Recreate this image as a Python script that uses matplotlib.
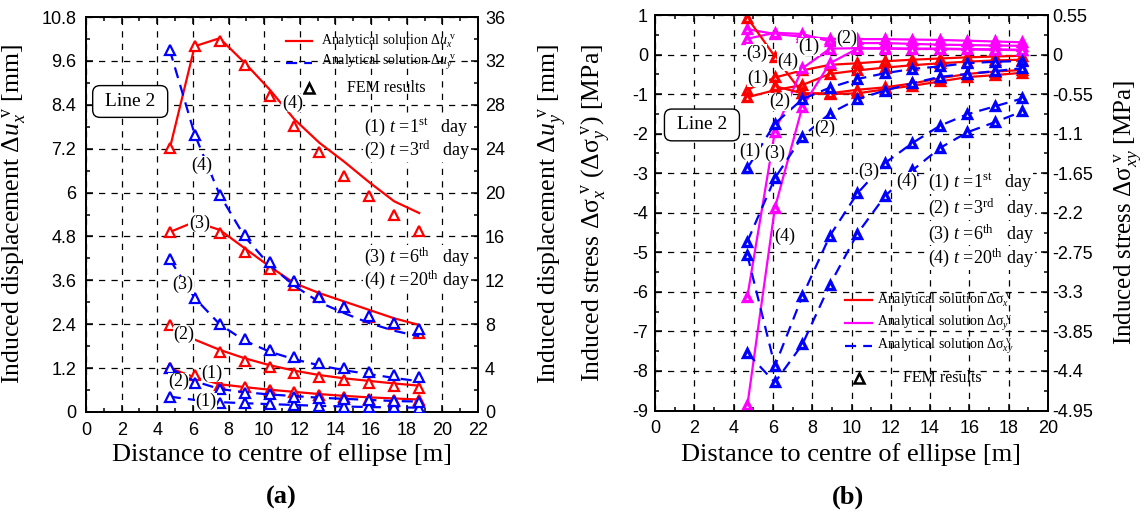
import numpy as np
import matplotlib.pyplot as plt
from matplotlib.ticker import FixedLocator, FuncFormatter

plt.rcParams['font.family'] = 'Liberation Sans'
plt.rcParams['mathtext.fontset'] = 'custom'
plt.rcParams['mathtext.rm'] = 'Liberation Serif'
plt.rcParams['mathtext.it'] = 'Liberation Serif:italic'
plt.rcParams['mathtext.bf'] = 'Liberation Serif:bold'
SERIF = 'Liberation Serif'
nan = np.nan

# distance of the sample points along line 2 (m)
dist = np.array([4.7, 6.1, 7.5, 8.9, 10.3, 11.7, 13.1, 14.5, 15.9, 17.3, 18.7])

# (a) horizontal displacement dux (mm, left axis)
ux_ana = [[1.20, 0.95, 0.76, 0.68, 0.61, 0.55, 0.49, 0.44, 0.40, 0.37, 0.34],
          [2.38, 1.98, 1.70, 1.47, 1.28, 1.13, 1.01, 0.92, 0.85, 0.78, 0.72],
          [4.92, 5.20, 4.98, 4.48, 3.98, 3.52, 3.25, 3.02, 2.79, 2.56, 2.38],
          [7.20, 10.0, 10.22, 9.55, 8.82, 8.00, 7.36, 6.84, 6.28, 5.76, 5.44]]
ux_fem = [[1.20, 1.01, 0.74, 0.68, 0.60, 0.56, 0.47, 0.42, 0.36, 0.33, 0.33],
          [2.38, nan, 1.65, 1.40, 1.24, 1.08, 0.97, 0.88, 0.79, 0.71, 0.65],
          [4.92, nan, 4.89, 4.37, 3.91, 3.48, 3.16, 2.87, 2.61, 2.41, 2.15],
          [7.22, 10.0, 10.14, 9.48, 8.63, 7.83, 7.10, 6.46, 5.90, 5.39, 4.96]]
# (a) vertical displacement duy (mm, right axis)
uy_ana = [[1.40, 1.10, 0.90, 0.80, 0.72, 0.64, 0.56, 0.50, 0.45, 0.42, 0.40],
          [4.0, 2.8, 2.1, 1.8, 1.6, 1.45, 1.3, 1.2, 1.1, 1.0, 0.95],
          [13.9, 10.4, 8.0, 6.5, 5.5, 4.8, 4.25, 3.8, 3.45, 3.1, 2.8],
          [33.0, 25.3, 19.8, 16.0, 13.4, 11.5, 10.0, 9.0, 8.1, 7.4, 6.9]]
uy_fem = [[1.40, nan, 0.85, 0.79, 0.73, 0.64, 0.55, 0.49, 0.43, 0.43, 0.40],
          [3.99, 2.68, 2.07, 1.76, 1.61, 1.40, 1.25, 1.16, 1.10, 1.00, 0.94],
          [13.93, 10.43, 8.03, 6.63, 5.66, 5.05, 4.44, 3.99, 3.68, 3.38, 3.22],
          [33.03, 25.27, 19.8, 16.15, 13.7, 11.95, 10.52, 9.55, 8.76, 8.09, 7.54]]

# (b) induced stresses (MPa): sx, sy on left axis, sxy on right axis
sx = [[-0.89, -0.58, -0.40, -0.26, -0.22, -0.17, -0.13, -0.10, -0.07, -0.05, -0.03],
      [-1.08, -0.90, -0.77, -0.49, -0.40, -0.33, -0.27, -0.22, -0.18, -0.15, -0.13],
      [0.93, -0.05, -0.98, -1.00, -0.98, -0.88, -0.79, -0.68, -0.57, -0.52, -0.46],
      [nan, -0.80, -0.98, -0.98, -0.89, -0.83, -0.73, -0.60, -0.49, -0.43, -0.39]]
sy = [[0.64, 0.52, 0.45, 0.40, 0.39, 0.39, 0.38, 0.37, 0.35, 0.33, 0.31],
      [0.40, 0.55, 0.52, 0.33, 0.29, 0.29, 0.27, 0.25, 0.24, 0.23, 0.22],
      [-6.12, -1.95, -0.35, 0.15, 0.16, 0.16, 0.15, 0.15, 0.14, 0.13, 0.12],
      [-8.87, -3.88, -1.32, -0.22, 0.15, 0.15, 0.14, 0.14, 0.13, 0.12, 0.11]]
sxy = [[-1.58, -0.96, -0.62, -0.46, -0.34, -0.26, -0.20, -0.165, -0.12, -0.10, -0.09],
       [-2.60, -1.72, -1.14, -0.82, -0.62, -0.50, -0.40, -0.31, -0.27, -0.23, -0.19],
       [-2.79, -4.33, -3.36, -2.52, -1.93, -1.51, -1.23, -0.99, -0.83, -0.72, -0.61],
       [-4.15, -4.56, -4.03, -3.20, -2.49, -1.97, -1.61, -1.30, -1.08, -0.94, -0.79]]

# time labels: number, day, ordinal suffix
times = [('(1)', '1', 'st', '   day'), ('(2)', '3', 'rd', '   day'),
         ('(3)', '6', 'th', '   day'), ('(4)', '20', 'th', ' day')]

W, H = 1145, 517
fig = plt.figure(figsize=(W / 100, H / 100), dpi=100)

RED, BLUE, MAG = '#ff0000', '#0000ff', '#ff00ff'
DASH = (0, (5, 3.2))
fmt = FuncFormatter(lambda v, p: f'{round(v, 2) + 0:g}')


def frame(ax, ax2, xmax, yt, yt2, pad_l, pad_r):
    ax.set_xlim(0, xmax)
    ax.xaxis.set_major_locator(FixedLocator(np.arange(0, xmax + 1, 2)))
    ax.xaxis.set_minor_locator(FixedLocator(np.arange(0, xmax + 1, 1)))
    ax.yaxis.set_major_locator(FixedLocator(yt))
    ax.yaxis.set_minor_locator(FixedLocator((yt[:-1] + yt[1:]) / 2))
    ax2.yaxis.set_major_locator(FixedLocator(yt2))
    ax2.yaxis.set_minor_locator(FixedLocator((yt2[:-1] + yt2[1:]) / 2))
    ax.set_ylim(yt[0], yt[-1])
    ax2.set_ylim(yt2[0], yt2[-1])
    ax.yaxis.set_major_formatter(fmt)
    ax2.yaxis.set_major_formatter(fmt)
    ax.grid(True, which='major', color='black', ls=(0, (5, 5)), lw=0.9)
    ax.tick_params(which='both', direction='in', top=True, right=False,
                   labelsize=13, width=1.1)
    ax.tick_params(axis='x', pad=7)
    ax.tick_params(axis='y', pad=pad_l)
    ax.tick_params(which='major', length=5)
    ax.tick_params(which='minor', length=3)
    ax2.tick_params(which='both', direction='in', labelsize=13, width=1.1, pad=pad_r)
    ax2.tick_params(which='major', length=5)
    ax2.tick_params(which='minor', length=3)
    for a in (ax, ax2):
        for s in a.spines.values():
            s.set_linewidth(1.3)


def lab(ax2, ax, x, y, s, size=13, ha='center'):
    ax2.text(x, y, s, transform=ax.transData, family=SERIF, fontsize=size,
             ha=ha, va='center', zorder=6,
             bbox=dict(fc='white', ec='none', pad=0.3))


def time_labels(ax2, ax, x, ys):
    for (n, d, sup, tail), y in zip(times, ys):
        ax2.text(x, y, n + r' $t$ =' + d + r'$^{\mathrm{' + sup + '}}$' + tail,
                 transform=ax.transData, family=SERIF, fontsize=13, va='center',
                 zorder=6, bbox=dict(fc='white', ec='none', pad=0.5))


# ---------------- (a) displacements ----------------
axa = fig.add_axes([86 / W, 1 - 412 / H, (478 - 86) / W, (412 - 17) / H])
axa2 = axa.twinx()
frame(axa, axa2, 22, np.round(np.arange(0, 10.81, 1.2), 2),
      np.arange(0, 37, 4.0), 7, 5)

for i in range(4):
    axa.plot(dist, ux_ana[i], color=RED, lw=1.6, zorder=3)
    axa.plot(dist, ux_fem[i], ls='none', marker='^', ms=7, mfc='white',
             mec=RED, mew=1.6, zorder=4)
    axa2.plot(dist, uy_ana[i], color=BLUE, lw=1.6, ls=DASH, zorder=3)
    axa2.plot(dist, uy_fem[i], ls='none', marker='^', ms=7, mfc='white',
              mec=BLUE, mew=1.6, zorder=4)

for x, y, s in [(11.58, 8.45, '(4)'), (6.47, 6.74, '(4)'), (6.36, 5.17, '(3)'),
                (5.44, 3.48, '(3)'), (5.48, 2.11, '(2)'), (5.19, 0.83, '(2)'),
                (7.07, 1.06, '(1)'), (6.75, 0.28, '(1)')]:
    lab(axa2, axa, x, y, s)

axa2.text(2.48, 8.49, ' Line 2 ', transform=axa.transData, family=SERIF,
          fontsize=14, ha='center', va='center', zorder=6,
          bbox=dict(boxstyle='round,pad=0.38', fc='white', ec='black', lw=1.0))

# legend (a)
axa.plot([11.2, 12.7], [10.14, 10.14], color=RED, lw=1.6, clip_on=False)
axa.plot([11.2, 12.7], [9.55, 9.55], color=BLUE, lw=1.6, ls=DASH, clip_on=False)
axa.plot([12.51], [8.86], ls='none', marker='^', ms=7, mfc='white', mec='black', mew=1.8)
axa.text(13.17, 10.14, r'Analytical solution Δ$u_x^{\ \mathrm{v}}$', family=SERIF,
         fontsize=10, va='center')
axa.text(13.17, 9.55, r'Analytical solution Δ$u_y^{\ \mathrm{v}}$', family=SERIF,
         fontsize=10, va='center')
axa.text(14.67, 8.86, 'FEM results', family=SERIF, fontsize=11.5, va='center')
time_labels(axa2, axa, 15.59, [7.77, 7.17, 4.25, 3.61])

axa.set_ylabel(r'Induced displacement Δ$u_x^{\ \mathrm{v}}$ [mm]', family=SERIF, fontsize=18.5)
axa.yaxis.set_label_coords(-0.148, 0.5)
axa2.set_ylabel(r'Induced displacement Δ$u_y^{\ \mathrm{v}}$ [mm]', family=SERIF, fontsize=18.5)
axa2.yaxis.set_label_coords(1.15, 0.5)

# ---------------- (b) stresses ----------------
axb = fig.add_axes([655 / W, 1 - 410.5 / H, (1048 - 655) / W, (410.5 - 15) / H])
axb2 = axb.twinx()
frame(axb, axb2, 20, np.arange(-9, 1.01, 1.0),
      np.round(np.arange(-4.95, 0.56, 0.55), 2), 5, 3)

mk = dict(marker='^', ms=6, mfc='white', mew=2.4)
for i in range(4):
    axb.plot(dist, sx[i], color=RED, lw=1.6, mec=RED, zorder=3, **mk)
    axb.plot(dist, sy[i], color=MAG, lw=1.6, mec=MAG, zorder=3, **mk)
    axb2.plot(dist, sxy[i], color=BLUE, lw=1.6, ls=DASH, mec=BLUE, zorder=3, **mk)

for x, y, s in [(5.17, 0.03, '(3)'), (6.78, -0.18, '(4)'), (7.84, 0.2, '(1)'),
                (9.75, 0.41, '(2)'), (5.25, -0.6, '(1)'), (6.35, -1.19, '(2)'),
                (8.64, -1.86, '(2)'), (4.83, -2.45, '(1)'), (6.1, -2.49, '(3)'),
                (10.89, -2.96, '(3)'), (12.8, -3.21, '(4)'), (6.61, -4.6, '(4)')]:
    lab(axb2, axb, x, y, s)

axb2.text(2.39, -1.78, ' Line 2 ', transform=axb.transData, family=SERIF,
          fontsize=14, ha='center', va='center', zorder=6,
          bbox=dict(boxstyle='round,pad=0.38', fc='white', ec='black', lw=1.0))

time_labels(axb2, axb, 13.9, [-3.24, -3.88, -4.52, -5.15])

# legend (b)
axb.plot([9.66, 11.02], [-6.2, -6.2], color=RED, lw=1.6)
axb.plot([9.66, 11.02], [-6.79, -6.79], color=MAG, lw=1.6)
axb.plot([9.66, 11.02], [-7.38, -7.38], color=BLUE, lw=1.6, ls=DASH)
axb.plot([10.39], [-8.18], ls='none', marker='^', ms=7, mfc='white', mec='black', mew=1.8)
for y, sub in [(-6.2, 'x'), (-6.79, 'y'), (-7.38, 'xy')]:
    axb.text(11.3, y, r'Analytical solution Δσ$_{' + sub + r'}^{\ \mathrm{v}}$',
             family=SERIF, fontsize=10, va='center')
axb.text(12.62, -8.18, 'FEM results', family=SERIF, fontsize=11.5, va='center')

axb.set_ylabel(r'Induced stress Δσ$_x^{\ \mathrm{v}}$ (Δσ$_y^{\ \mathrm{v}}$) [MPa]',
               family=SERIF, fontsize=18.5)
axb.yaxis.set_label_coords(-0.109, 0.5)
axb2.set_ylabel(r'Induced stress Δσ$_{xy}^{\ \mathrm{v}}$ [MPa]', family=SERIF, fontsize=18)
axb2.yaxis.set_label_coords(1.165, 0.5)

# x labels and panel tags
fig.text(282 / W, 1 - 455 / H, 'Distance to centre of ellipse [m]', family=SERIF,
         fontsize=19, ha='center', va='center')
fig.text(851 / W, 1 - 455 / H, 'Distance to centre of ellipse [m]', family=SERIF,
         fontsize=19, ha='center', va='center')
fig.text(281 / W, 1 - 497 / H, '(a)', family=SERIF, fontsize=19, weight='bold',
         ha='center', va='center')
fig.text(848 / W, 1 - 497 / H, '(b)', family=SERIF, fontsize=19, weight='bold',
         ha='center', va='center')

fig.savefig('out.png', dpi=100)
